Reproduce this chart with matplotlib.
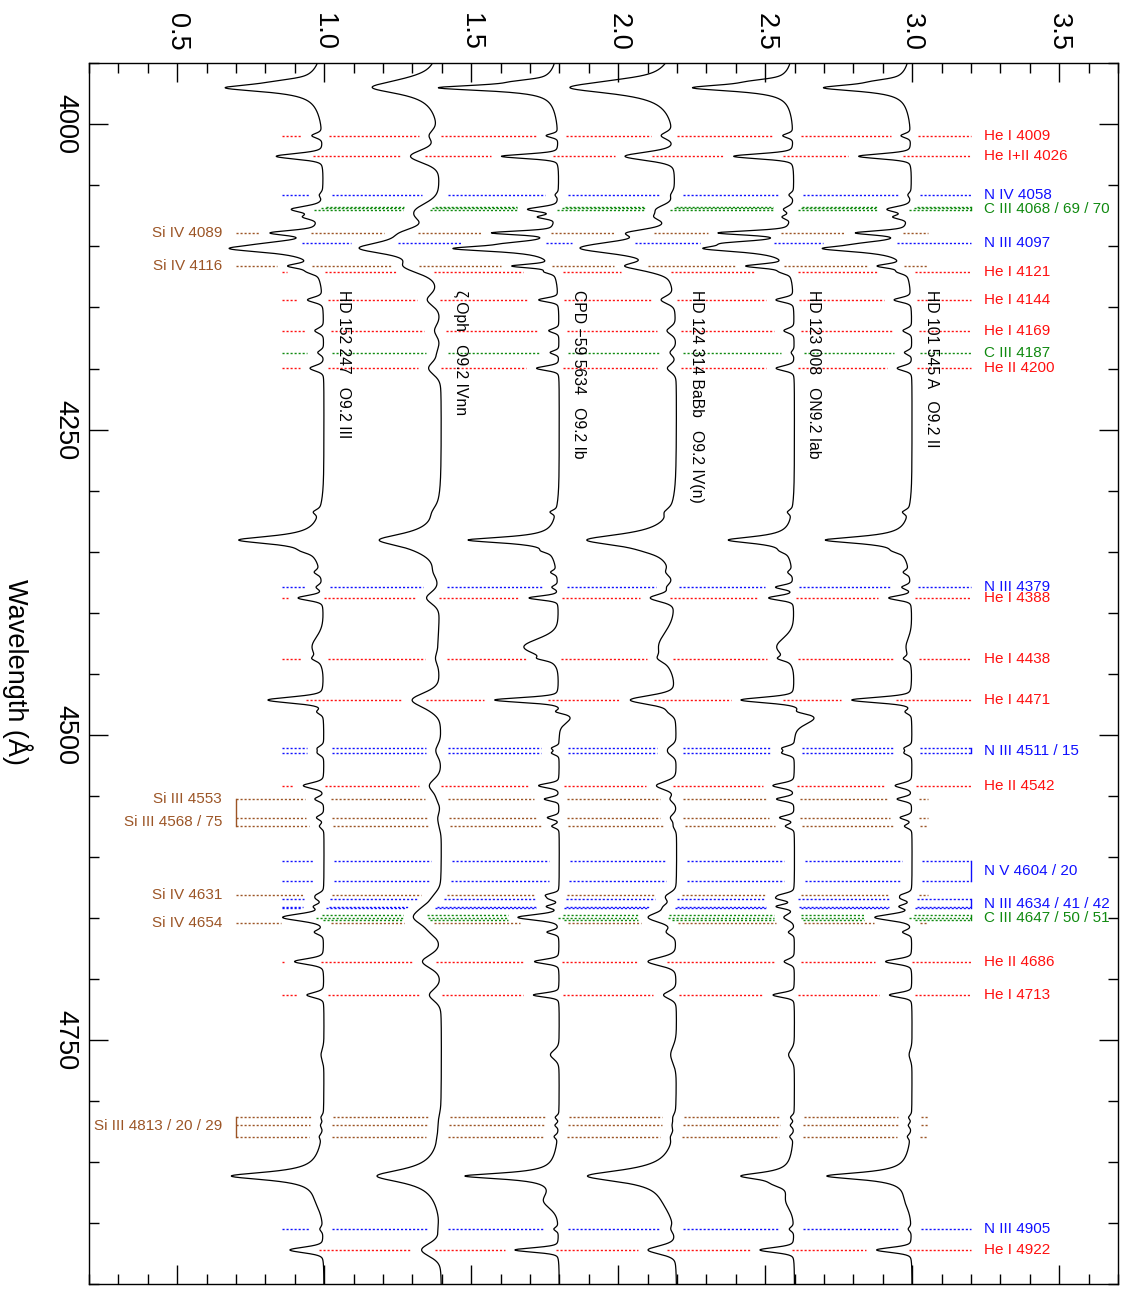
import numpy as np
import matplotlib
matplotlib.use("Agg")
import matplotlib.pyplot as plt
from matplotlib.ticker import MultipleLocator, FormatStrFormatter

plt.rcParams['font.family'] = ['Liberation Sans', 'DejaVu Sans']

# ---------------------------------------------------------------- stars
star_labels = ["HD 152 247   O9.2 III",
               "ζ Oph   O9.2 IVnn",
               "CPD −59 5634   O9.2 Ib",
               "HD 124 314 BaBb   O9.2 IV(n)",
               "HD 123 008   ON9.2 Iab",
               "HD 101 545 A   O9.2 II"]
star_offsets = [0.0, 0.4, 0.8, 1.2, 1.6, 2.0]
# gaussian sigma (A) of the He / metal lines in each star
star_sigma = [1.9, 4.5, 1.5, 2.8, 1.7, 1.7]

# ---------------------------------------------------------------- Balmer lines
balmer_center = [3970.07, 4101.74, 4340.47, 4861.33]
# central depths of He, Hd, Hg, Hb per star
balmer_depth = [[0.334, 0.315, 0.290, 0.315],
                [0.220, 0.253, 0.210, 0.220],
                [0.410, 0.357, 0.310, 0.320],
                [0.355, 0.311, 0.305, 0.300],
                [0.345, 0.300, 0.225, 0.180],
                [0.300, 0.300, 0.295, 0.290]]
balmer_hwhm = [4.0, 6.5, 3.0, 6.0, 3.5, 3.5]
balmer_broad_depth = [0.02, 0.02, 0.015, 0.02, 0.01, 0.015]
balmer_broad_sigma = 18.0

# ---------------------------------------------------------------- He / metal / DIB lines
line_center = [3964.7, 4009.3, 4026.2, 4057.8, 4069.6, 4075.9, 4088.9, 4097.3,
               4116.1, 4120.8, 4143.8, 4169.0, 4186.9, 4199.8, 4317.5, 4349.4,
               4366.9, 4379.1, 4387.9, 4428.0, 4437.6, 4471.5, 4481.2, 4486.0,
               4510.9, 4514.9, 4541.6, 4552.6, 4567.8, 4574.8, 4631.2, 4634.1,
               4640.6, 4649.5, 4661.6, 4685.7, 4713.1, 4762.0, 4813.3, 4819.7,
               4829.0, 4868.0, 4882.0, 4904.8, 4921.9]
# width multiplier relative to the star's sigma (DIBs are broad)
line_width = [1.0, 1.0, 1.2, 1.0, 1.3, 1.0, 1.0, 1.0,
              1.0, 1.0, 1.1, 1.1, 1.0, 1.2, 1.0, 1.0,
              1.0, 1.0, 1.1, 4.5, 1.0, 1.3, 1.0, 3.0,
              1.0, 1.0, 1.2, 1.0, 1.0, 1.0, 1.0, 1.0,
              1.0, 1.5, 1.0, 1.2, 1.1, 2.5, 1.0, 1.0,
              1.0, 1.5, 4.0, 1.0, 1.2]
# depth of each line in each star (columns follow star order)
line_depth = [
    [0.040, 0.030, 0.050, 0.040, 0.050, 0.040],   # He I 3965
    [0.035, 0.030, 0.040, 0.040, 0.035, 0.033],   # He I 4009
    [0.160, 0.100, 0.195, 0.170, 0.205, 0.180],   # He I+II 4026
    [0.010, 0.000, 0.010, 0.010, 0.015, 0.010],   # N IV 4058
    [0.100, 0.060, 0.100, 0.050, 0.030, 0.077],   # C III / O II 4070
    [0.050, 0.030, 0.060, 0.040, 0.030, 0.050],   # O II 4076
    [0.140, 0.070, 0.200, 0.100, 0.230, 0.160],   # Si IV 4089
    [0.050, 0.030, 0.060, 0.040, 0.120, 0.050],   # N III 4097
    [0.085, 0.063, 0.135, 0.110, 0.140, 0.090],   # Si IV 4116
    [0.030, 0.020, 0.030, 0.030, 0.030, 0.030],   # He I 4121
    [0.052, 0.040, 0.067, 0.045, 0.060, 0.058],   # He I 4144
    [0.030, 0.020, 0.035, 0.030, 0.035, 0.030],   # He I 4169
    [0.020, 0.010, 0.030, 0.020, 0.010, 0.025],   # C III 4187
    [0.047, 0.042, 0.077, 0.030, 0.062, 0.050],   # He II 4200
    [0.020, 0.010, 0.020, 0.015, 0.015, 0.020],   # O II 4317
    [0.020, 0.010, 0.020, 0.015, 0.015, 0.020],   # O II 4349
    [0.020, 0.010, 0.020, 0.015, 0.015, 0.020],   # O II 4367
    [0.020, 0.000, 0.020, 0.020, 0.060, 0.030],   # N III 4379
    [0.085, 0.045, 0.100, 0.082, 0.085, 0.077],   # He I 4388
    [0.040, 0.010, 0.120, 0.060, 0.060, 0.020],   # DIB 4428
    [0.020, 0.010, 0.030, 0.020, 0.030, 0.020],   # He I 4438
    [0.190, 0.097, 0.220, 0.155, 0.185, 0.205],   # He I 4471
    [0.020, 0.010, 0.030, 0.020, 0.030, 0.020],   # Mg II 4481
    [0.000, 0.000, -0.040, 0.000, -0.070, 0.000], # 4486 hump
    [0.020, 0.010, 0.025, 0.020, 0.040, 0.025],   # N III 4511
    [0.020, 0.010, 0.025, 0.020, 0.040, 0.025],   # N III 4515
    [0.070, 0.040, 0.070, 0.068, 0.073, 0.057],   # He II 4542
    [0.030, 0.010, 0.050, 0.020, 0.060, 0.050],   # Si III 4553
    [0.025, 0.010, 0.040, 0.020, 0.050, 0.040],   # Si III 4568
    [0.015, 0.005, 0.025, 0.010, 0.030, 0.025],   # Si III 4575
    [0.020, 0.010, 0.040, 0.020, 0.040, 0.030],   # Si IV 4631
    [0.020, 0.010, 0.030, 0.020, 0.050, 0.030],   # N III 4634
    [0.030, 0.020, 0.040, 0.030, 0.060, 0.040],   # N III 4641
    [0.140, 0.090, 0.140, 0.095, 0.035, 0.126],   # C III 4650 blend
    [0.030, 0.020, 0.040, 0.030, 0.020, 0.030],   # O II 4662
    [0.100, 0.063, 0.084, 0.097, 0.035, 0.090],   # He II 4686
    [0.058, 0.040, 0.088, 0.044, 0.073, 0.077],   # He I 4713
    [0.010, 0.000, 0.030, 0.020, 0.020, 0.010],   # DIB 4762
    [0.008, 0.004, 0.012, 0.008, 0.012, 0.010],   # Si III 4813
    [0.008, 0.004, 0.012, 0.008, 0.012, 0.010],   # Si III 4820
    [0.008, 0.004, 0.012, 0.008, 0.012, 0.010],   # Si III 4829
    [0.000, 0.000, 0.000, 0.000, 0.030, 0.000],   # Hb red shoulder
    [0.010, 0.000, 0.040, 0.020, 0.020, 0.010],   # DIB 4882
    [0.010, 0.005, 0.015, 0.010, 0.015, 0.010],   # N III 4905
    [0.115, 0.066, 0.150, 0.095, 0.117, 0.120],   # He I 4922
]

# ---------------------------------------------------------------- line identifications
mark_labels = ["He I 4009", "He I+II 4026", "N IV 4058", "C III 4068 / 69 / 70",
               "N III 4097", "He I 4121", "He I 4144", "He I 4169", "C III 4187",
               "He II 4200", "N III 4379", "He I 4388", "He I 4438", "He I 4471",
               "N III 4511 / 15", "He II 4542", "N V 4604 / 20",
               "N III 4634 / 41 / 42", "C III 4647 / 50 / 51", "He II 4686",
               "He I 4713", "N III 4905", "He I 4922",
               "Si IV 4089", "Si IV 4116", "Si III 4553", "Si III 4568 / 75",
               "Si IV 4631", "Si IV 4654", "Si III 4813 / 20 / 29"]
mark_waves = [[4009.3], [4026.2], [4057.8], [4067.9, 4068.9, 4070.3],
              [4097.3], [4120.8], [4143.8], [4169.0], [4186.9],
              [4199.8], [4379.1], [4387.9], [4437.6], [4471.5],
              [4510.9, 4514.9], [4541.6], [4603.7, 4619.9],
              [4634.1, 4640.6, 4641.9], [4647.4, 4650.3, 4651.5], [4685.7],
              [4713.1], [4904.8], [4921.9],
              [4088.9], [4116.1], [4552.6], [4567.8, 4574.8],
              [4631.2], [4654.3], [4813.3, 4819.7, 4829.0]]
mark_element = ["He", "He", "N", "C", "N", "He", "He", "He", "C", "He", "N", "He",
                "He", "He", "N", "He", "N", "N", "C", "He", "He", "N", "He",
                "Si", "Si", "Si", "Si", "Si", "Si", "Si"]
element_color = {"He": "#ff1010", "N": "#1010ff", "C": "#108a10", "Si": "#9c5526"}
# brackets joining multiplets: (start, end, element)
bracket_spans = [(4067.9, 4070.3, "C"), (4510.9, 4514.9, "N"), (4603.7, 4619.9, "N"),
                 (4634.1, 4641.9, "N"), (4647.4, 4651.5, "C"),
                 (4552.6, 4574.8, "Si"), (4813.3, 4829.0, "Si")]

# ---------------------------------------------------------------- synthetic spectra
wave = np.arange(3950.0, 4950.01, 0.2)


def voigtish(x, c, d, sig, eta=0.3):
    hw = 1.1774 * sig
    g = np.exp(-0.5 * ((x - c) / sig) ** 2)
    lor = 1.0 / (1.0 + ((x - c) / hw) ** 2)
    return d * ((1 - eta) * g + eta * lor)


spectra = []
for k in range(len(star_labels)):
    f = np.ones_like(wave)
    for j, bc in enumerate(balmer_center):
        broad = balmer_broad_depth[k]
        core = balmer_depth[k][j] - broad
        f -= core / (1.0 + ((wave - bc) / balmer_hwhm[k]) ** 2)
        f -= broad * np.exp(-0.5 * ((wave - bc) / balmer_broad_sigma) ** 2)
    for c, w, dep in zip(line_center, line_width, line_depth):
        f -= voigtish(wave, c, dep[k], star_sigma[k] * w)
    spectra.append(f)

# ---------------------------------------------------------------- figure
fig = plt.figure(figsize=(11.25, 12.91), dpi=100)
ax = fig.add_axes([0.0791, 0.0052, 0.9938 - 0.0791, 0.951 - 0.0052])
ax.set_xlim(0.2, 3.7)
ax.set_ylim(4950, 3950)

for k, f in enumerate(spectra):
    ax.plot(f + star_offsets[k], wave, color="black", lw=0.9, zorder=3)
    ax.text(star_offsets[k] + 1.065, 4135.5, star_labels[k], rotation=-90,
            ha="center", va="top", fontsize=11.3, zorder=4)

PAD = 0.035
X_LEFT_R, X_RIGHT_R = 0.855, 3.20     # lines labelled on the right
X_LEFT_L, X_RIGHT_L = 0.70, 3.053     # lines labelled on the left
dots = (0, (1.5, 1.4))

for lab, ws, el in zip(mark_labels, mark_waves, mark_element):
    col = element_color[el]
    left_side = el == "Si"
    x0, x1 = (X_LEFT_L, X_RIGHT_L) if left_side else (X_LEFT_R, X_RIGHT_R)
    for w in ws:
        sel = (wave > w - 3) & (wave < w + 3)
        start = x0
        for k, f in enumerate(spectra):
            lo = f[sel].min() + star_offsets[k] - PAD
            hi = f[sel].max() + star_offsets[k] + PAD
            if lo > start:
                ax.plot([start, lo], [w, w], color=col, lw=1.0, ls=dots, zorder=2)
            start = max(start, hi)
        if x1 > start:
            ax.plot([start, x1], [w, w], color=col, lw=1.0, ls=dots, zorder=2)
    yl = float(np.mean(ws))
    if left_side:
        ax.text(0.652, yl, lab, color=col, ha="right", va="center", fontsize=11)
    else:
        ax.text(3.245, yl, lab, color=col, ha="left", va="center", fontsize=11)

for a, b, el in bracket_spans:
    xb = X_LEFT_L if el == "Si" else X_RIGHT_R
    ax.plot([xb, xb], [a, b], color=element_color[el], lw=1.0, zorder=2)

# ---------------------------------------------------------------- axes styling
ax.xaxis.set_major_locator(MultipleLocator(0.5))
ax.xaxis.set_minor_locator(MultipleLocator(0.1))
ax.xaxis.set_major_formatter(FormatStrFormatter("%.1f"))
ax.yaxis.set_major_locator(MultipleLocator(250))
ax.yaxis.set_minor_locator(MultipleLocator(50))
ax.tick_params(which="both", direction="in", top=True, bottom=True, left=True,
               right=True, labeltop=True, labelbottom=False, labelleft=True,
               labelright=False, width=1.0)
ax.tick_params(which="major", length=14)
ax.tick_params(which="minor", length=7)
ax.tick_params(axis="x", labelrotation=-90, labelsize=19.5, pad=9)
ax.tick_params(axis="y", labelrotation=-90, labelsize=19.5, pad=8)
for t in ax.get_yticklabels():
    t.set_va("center")
for s in ax.spines.values():
    s.set_linewidth(1.0)

fig.text(0.0151, 0.4795, "Wavelength (Å)", rotation=-90, ha="center", va="center",
         fontsize=19.5)

fig.savefig("out.png", dpi=100)
